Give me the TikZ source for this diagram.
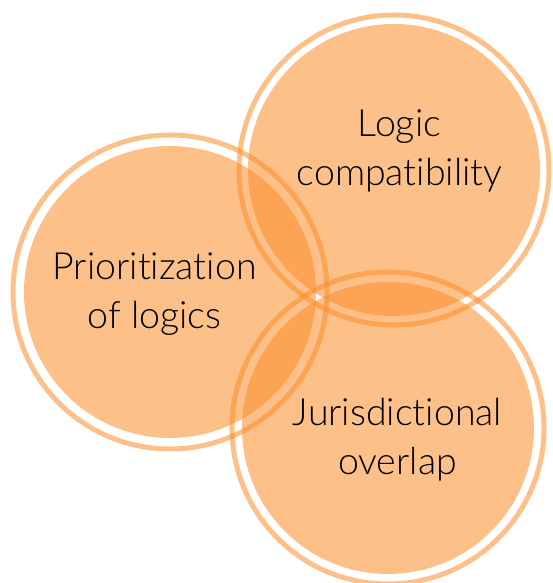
\documentclass[tikz,border=0pt]{standalone}
\usepackage{fontspec}
\setmainfont{Lato}[UprightFont=* Light, Ligatures=NoCommon]
\definecolor{orng}{RGB}{251,140,40}
\begin{document}
\begin{tikzpicture}[x=1pt,y=1pt,
  blob/.style={circle, fill=orng, fill opacity=0.55, draw=none, minimum size=292pt, inner sep=0pt},
  ring/.style={circle, draw=orng, draw opacity=0.55, line width=5pt, minimum size=310pt, inner sep=0pt},
  lbl/.style={font=\fontsize{37.5}{49}\selectfont, align=center, text=black, text opacity=1}]
\useasboundingbox (0,0) rectangle (552,583);
% Logic compatibility
\node[blob] (fa) at (394,413) {};
\node[ring] (ra) at (394,413) {};
% Prioritization
\node[blob] (fb) at (170,291) {};
\node[ring, minimum size=314pt] (rb) at (170,291) {};
% Jurisdictional
\node[blob] (fc) at (388,155) {};
\node[ring, minimum size=312pt] (rc) at (388,155) {};
\node[lbl] (ta) at (399.5,432.5) {Logic\\compatibility};
\node[lbl] (tb) at (154.5,289) {Prioritization\\of logics};
\node[lbl] (tc) at (397.5,143) {Jurisdictional\\overlap};
\end{tikzpicture}
\end{document}
